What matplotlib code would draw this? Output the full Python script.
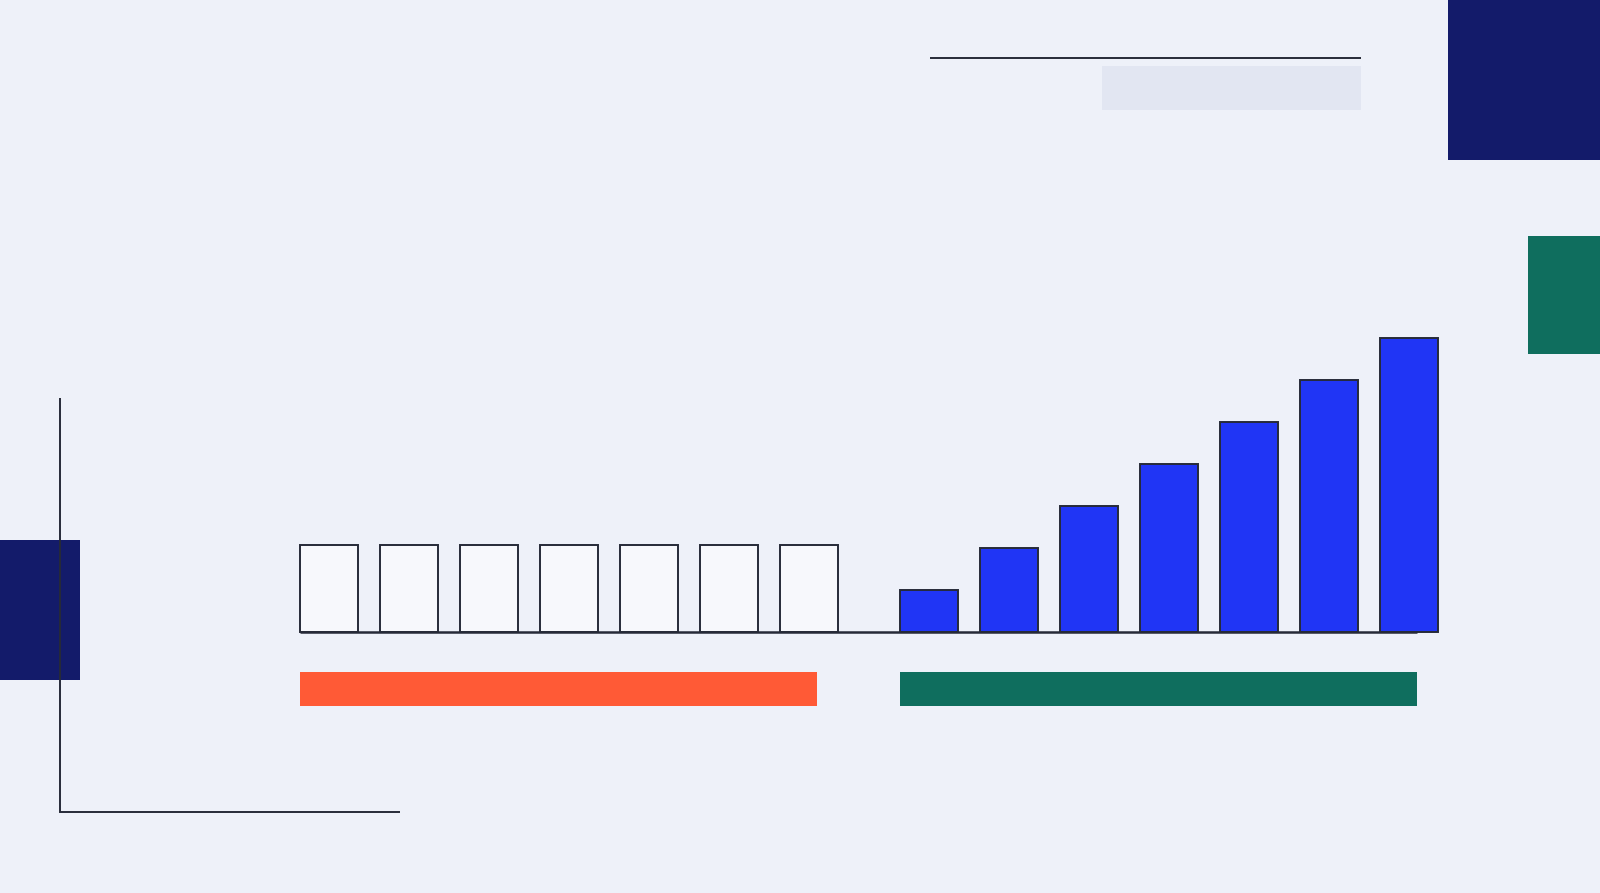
import matplotlib
matplotlib.use("Agg")
import matplotlib.pyplot as plt
from matplotlib.patches import Rectangle

# ---- data ----
before_pos = [0, 1, 2, 3, 4, 5, 6]
before_vals = [2.06, 2.06, 2.06, 2.06, 2.06, 2.06, 2.06]
after_pos = [7.5, 8.5, 9.5, 10.5, 11.5, 12.5, 13.5]
after_vals = [1, 2, 3, 4, 5, 6, 7]

BG = "#EEF1F9"
NAVY = "#131B6A"
GREEN = "#0F6E5E"
ORANGE = "#FF5A36"
BLUE = "#2035F5"
WHITE = "#F7F8FC"
GRAY = "#E2E6F2"
INK = "#262A38"

W, H = 1600, 893
fig = plt.figure(figsize=(W / 100, H / 100), dpi=100)
fig.patch.set_facecolor(BG)

# decoration layer in pixel coordinates
deco = fig.add_axes([0, 0, 1, 1], zorder=0)
deco.set_xlim(0, W)
deco.set_ylim(H, 0)
deco.axis("off")
deco.set_facecolor(BG)

def rect(x0, y0, x1, y1, color, z=1):
    deco.add_patch(Rectangle((x0, y0), x1 - x0, y1 - y0, facecolor=color,
                             edgecolor="none", zorder=z))

rect(1448, 0, 1600, 160, NAVY)
rect(1528, 236, 1600, 354, GREEN)
rect(0, 540, 80, 680, NAVY)
rect(1102, 66, 1361, 110, GRAY)
deco.plot([930, 1361], [58, 58], color=INK, lw=1.4, solid_capstyle="butt", zorder=3)
deco.plot([60, 60, 400], [398, 812, 812], color=INK, lw=1.4,
          solid_capstyle="butt", solid_joinstyle="miter", zorder=3)

# bar chart layer
ax = fig.add_axes([0, 0, 1, 1], zorder=1)
ax.patch.set_alpha(0)
ax.axis("off")
x0px, unit_x = 329, 80
base_px, unit_y = 632, 42
ax.set_xlim(-x0px / unit_x, (W - x0px) / unit_x)
ax.set_ylim(-(H - base_px) / unit_y, base_px / unit_y)

bw = 0.725
ax.bar(before_pos, before_vals, width=bw, color=WHITE, edgecolor=INK, linewidth=1.4, zorder=2)
ax.bar(after_pos, after_vals, width=bw, color=BLUE, edgecolor=INK, linewidth=1.4, zorder=2)

left = before_pos[0] - bw / 2
ax.plot([left, (1417 - x0px) / unit_x], [0, 0], color=INK, lw=1.8,
        solid_capstyle="butt", zorder=3)

glen = 6.46
gy0, gy1 = -(706 - base_px) / unit_y, -(672 - base_px) / unit_y
ax.add_patch(Rectangle((before_pos[0] - bw / 2, gy0), glen, gy1 - gy0,
                       facecolor=ORANGE, edgecolor="none", zorder=2))
ax.add_patch(Rectangle((after_pos[0] - bw / 2, gy0), glen, gy1 - gy0,
                       facecolor=GREEN, edgecolor="none", zorder=2))

fig.savefig("out.png", dpi=100, facecolor=BG)
